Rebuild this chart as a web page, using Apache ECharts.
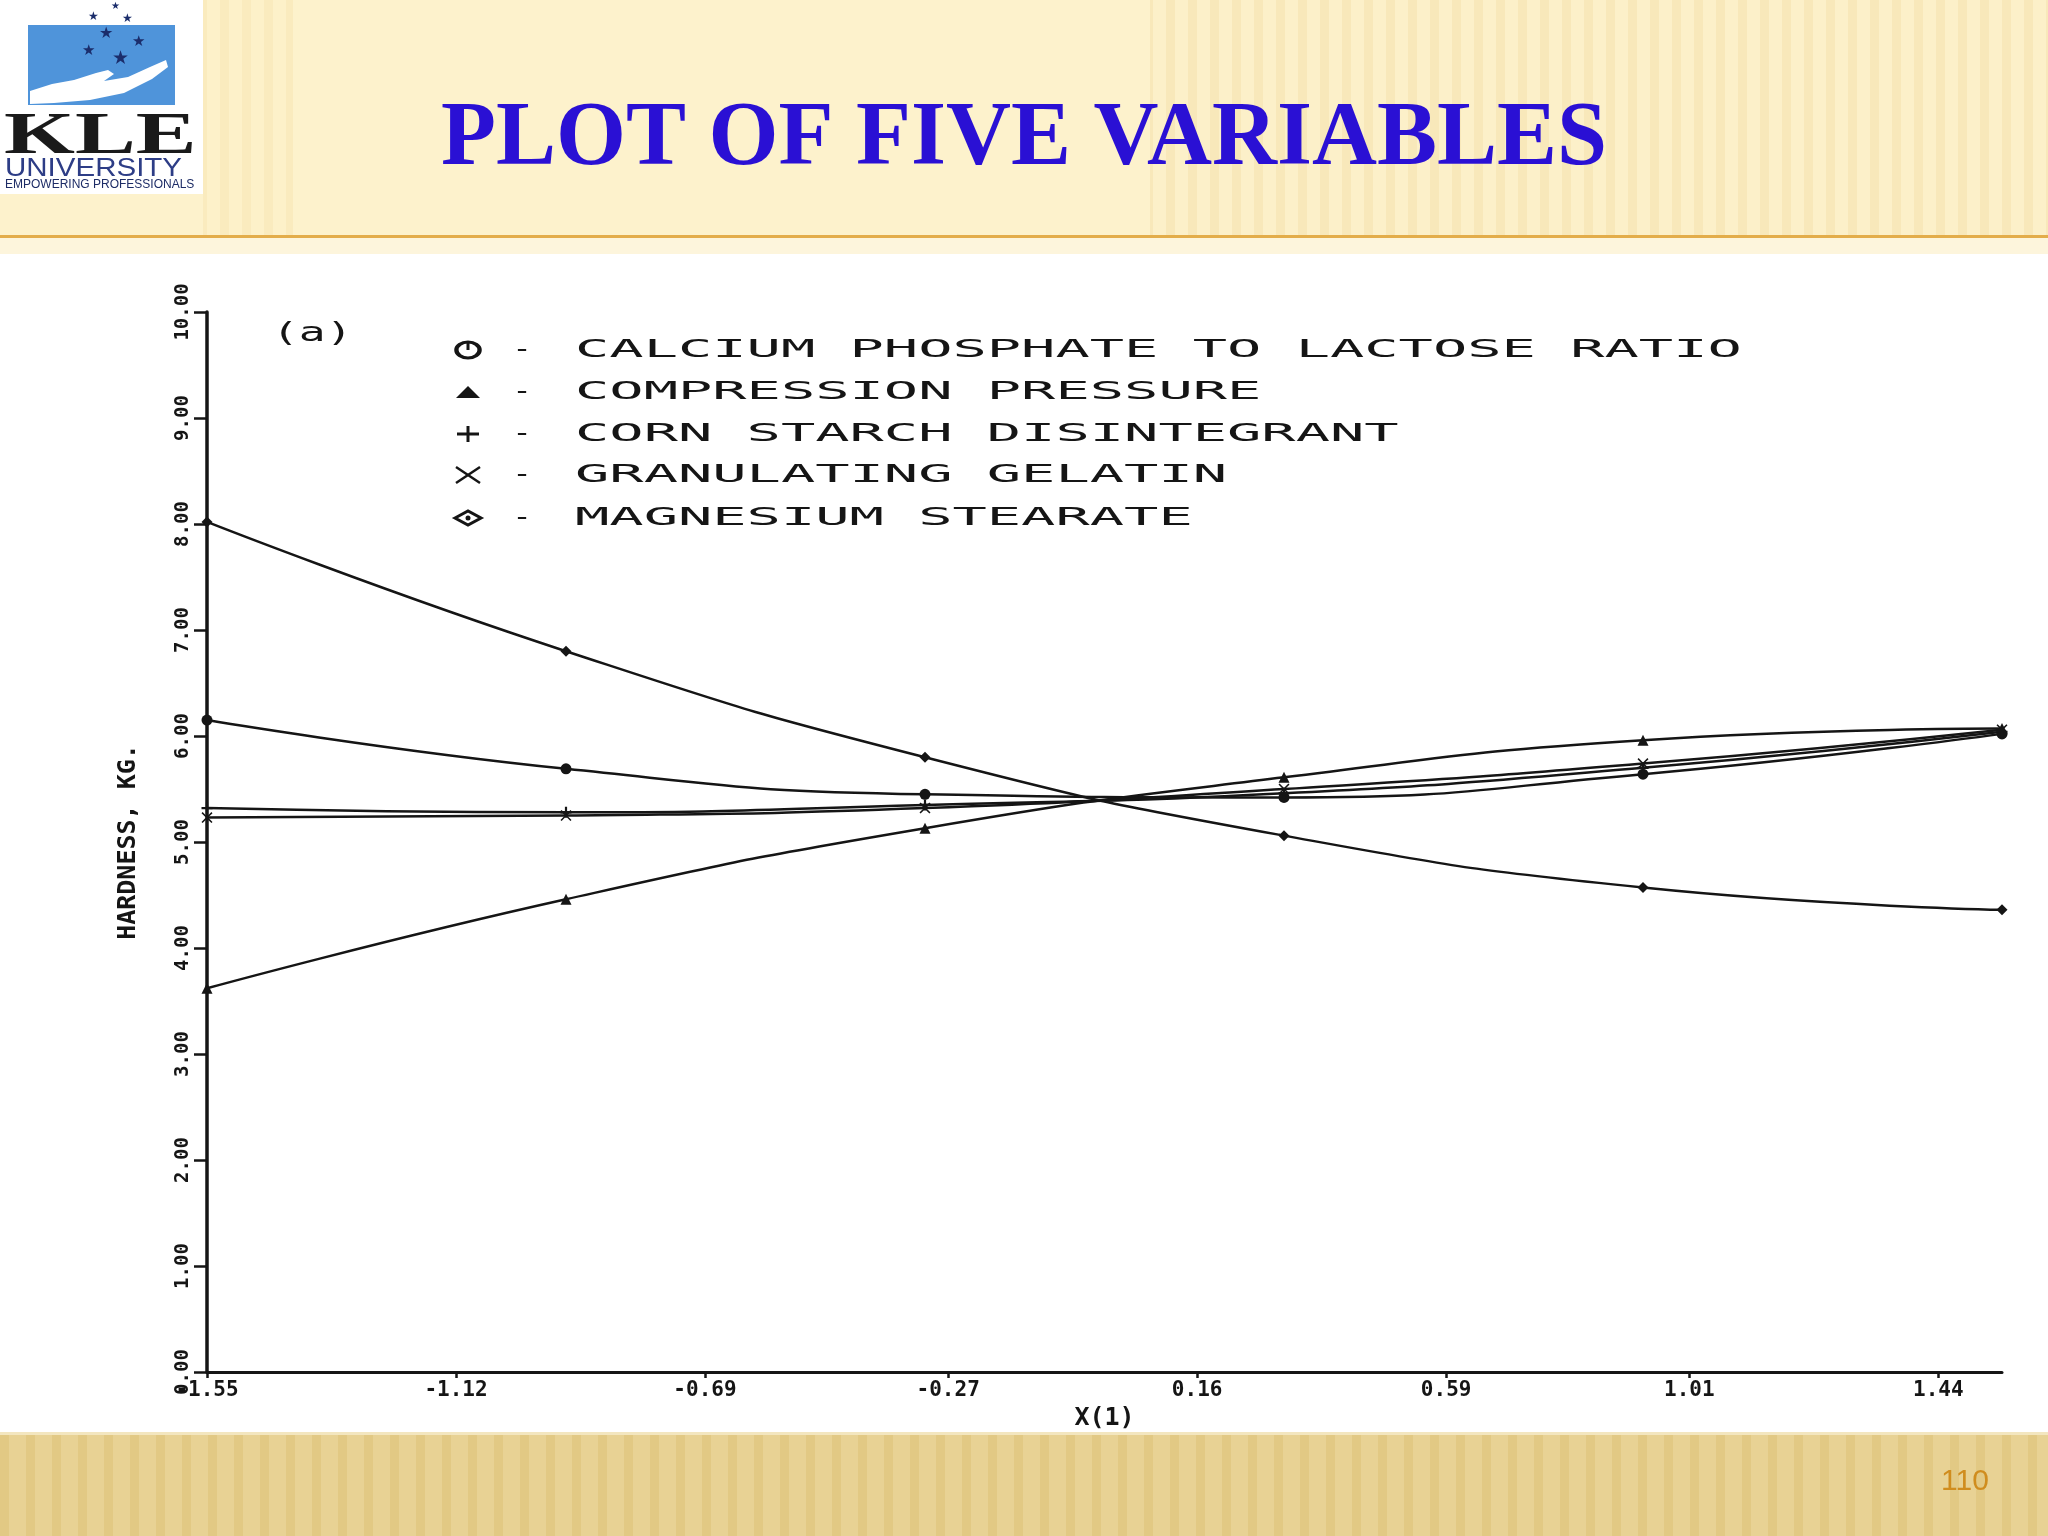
<!DOCTYPE html>
<html><head><meta charset="utf-8">
<script src="https://cdn.jsdelivr.net/npm/echarts@6/dist/echarts.min.js"></script>
<style>html,body{margin:0;padding:0;background:#fff}#c{width:2048px;height:1536px}</style>
</head><body><div id="c"></div>
<script>
// ---------------- data ----------------
const xPoints = [-1.55, -0.93, -0.31, 0.31, 0.93, 1.55];
const xTickLabels = ['-1.55', '-1.12', '-0.69', '-0.27', '0.16', '0.59', '1.01', '1.44'];
const yTickLabels = ['0.00', '1.00', '2.00', '3.00', '4.00', '5.00', '6.00', '7.00', '8.00', '9.00', '10.00'];
const seriesNames = ['CALCIUM PHOSPHATE TO LACTOSE RATIO', 'COMPRESSION PRESSURE', 'CORN STARCH DISINTEGRANT', 'GRANULATING GELATIN', 'MAGNESIUM STEARATE'];
const calciumPhosphate = [6.15, 5.69, 5.45, 5.42, 5.64, 6.02];
const compressionPressure = [3.62, 4.46, 5.13, 5.61, 5.96, 6.07];
const cornStarch = [5.32, 5.28, 5.35, 5.46, 5.70, 6.04];
const gelatin = [5.23, 5.25, 5.32, 5.50, 5.74, 6.06];
const magnesiumStearate = [8.02, 6.80, 5.80, 5.06, 4.57, 4.36];
const titleText = 'PLOT OF FIVE VARIABLES';
const panelLabel = '(a)';
const xAxisName = 'X(1)';
const yAxisName = 'HARDNESS, KG.';
const pageNumber = '110';

// ---------------- styling ----------------
const INK = '#151515';
const MONO = 'DejaVu Sans Mono';
const xTickValues = xTickLabels.map(Number);
const seriesValues = [calciumPhosphate, compressionPressure, cornStarch, gelatin, magnesiumStearate];
const seriesSymbols = [
  'circle', 'triangle',
  'path://M4,0H6V4H10V6H6V10H4V6H0V4H4Z',
  'path://M1,0L5,4L9,0L10,1L6,5L10,9L9,10L5,6L1,10L0,9L4,5L0,1Z',
  'diamond'
];

function stripes(w, base, stripe, frac) {
  const c = document.createElement('canvas');
  c.width = w; c.height = 8;
  const g = c.getContext('2d');
  g.fillStyle = base; g.fillRect(0, 0, w, 8);
  g.fillStyle = stripe; g.fillRect(0, 0, Math.round(w * frac), 8);
  return c;
}
const headerPattern = { image: stripes(22, '#fcefc6', '#f4e1ab', 0.4), repeat: 'repeat' };
const footerPattern = { image: stripes(26, '#e8d294', '#e2c984', 0.35), repeat: 'repeat' };

const chart = echarts.init(document.getElementById('c'), null, { renderer: 'canvas' });

const legendRows = [350, 392, 434, 475, 518];
const legendIconX = 468;
const graphics = [
  // slide background pieces
  { type: 'rect', z: -20, shape: { x: 0, y: 0, width: 2048, height: 236 }, style: { fill: '#fdf2cc' } },
  { type: 'rect', z: -19, shape: { x: 1150, y: 0, width: 898, height: 236 }, style: { fill: headerPattern, opacity: 0.55 } },
  { type: 'rect', z: -19, shape: { x: 203, y: 0, width: 90, height: 236 }, style: { fill: headerPattern, opacity: 0.4 } },
  { type: 'rect', z: -18, shape: { x: 0, y: 235, width: 2048, height: 3 }, style: { fill: '#e3ad4a' } },
  { type: 'rect', z: -20, shape: { x: 0, y: 238, width: 2048, height: 16 }, style: { fill: '#fdf5dc' } },
  { type: 'rect', z: -20, shape: { x: 0, y: 1432, width: 2048, height: 104 }, style: { fill: footerPattern } },
  { type: 'rect', z: -19, shape: { x: 0, y: 1432, width: 2048, height: 3 }, style: { fill: '#f3e6bf' } },
  // logo
  { type: 'rect', z: -10, shape: { x: 0, y: 0, width: 203, height: 194 }, style: { fill: '#ffffff' } },
  { type: 'rect', z: -9, shape: { x: 28, y: 25, width: 147, height: 80 }, style: { fill: '#4f94da' } },
  { type: 'polygon', z: -8, shape: { points: [[30, 91], [52, 84], [74, 80], [96, 73], [108, 70], [114, 74], [104, 81], [128, 77], [150, 67], [166, 60], [168, 67], [152, 79], [124, 93], [90, 100], [54, 103], [30, 104]] }, style: { fill: '#ffffff' } },
  { type: 'text', z: -7, x: 115, y: 6, style: { text: '★', fontSize: 10, fill: '#1b2d6b', align: 'center', verticalAlign: 'middle' } },
  { type: 'text', z: -7, x: 93, y: 17, style: { text: '★', fontSize: 12, fill: '#1b2d6b', align: 'center', verticalAlign: 'middle' } },
  { type: 'text', z: -7, x: 127, y: 19, style: { text: '★', fontSize: 12, fill: '#1b2d6b', align: 'center', verticalAlign: 'middle' } },
  { type: 'text', z: -7, x: 106, y: 34, style: { text: '★', fontSize: 16, fill: '#1b2d6b', align: 'center', verticalAlign: 'middle' } },
  { type: 'text', z: -7, x: 138, y: 42, style: { text: '★', fontSize: 15, fill: '#1b2d6b', align: 'center', verticalAlign: 'middle' } },
  { type: 'text', z: -7, x: 88, y: 51, style: { text: '★', fontSize: 15, fill: '#1b2d6b', align: 'center', verticalAlign: 'middle' } },
  { type: 'text', z: -7, x: 120, y: 59, style: { text: '★', fontSize: 19, fill: '#1b2d6b', align: 'center', verticalAlign: 'middle' } },
  { type: 'text', z: -7, x: 4, y: 137, scaleX: 1.52, style: { text: 'KLE', fontFamily: 'Liberation Serif', fontWeight: 'bold', fontSize: 60, fill: '#1a1a1a', verticalAlign: 'middle' } },
  { type: 'text', z: -7, x: 5, y: 169, scaleX: 1.18, style: { text: 'UNIVERSITY', fontFamily: 'Liberation Sans', fontSize: 25, fill: '#2d3d86', verticalAlign: 'middle' } },
  { type: 'text', z: -7, x: 5, y: 185, scaleX: 1.0, style: { text: 'EMPOWERING PROFESSIONALS', fontFamily: 'Liberation Sans Narrow, Liberation Sans', fontSize: 12, fill: '#1d2c66', verticalAlign: 'middle' } },
  // title
  { type: 'text', x: 1024, y: 141, style: { text: titleText, fontFamily: 'Liberation Serif', fontWeight: 'bold', fontSize: 90, fill: '#2a10d4', align: 'center', verticalAlign: 'middle' } },
  // page number
  { type: 'text', x: 1965, y: 1482, style: { text: pageNumber, fontFamily: 'Liberation Sans', fontSize: 30, fill: '#d08d1e', align: 'center', verticalAlign: 'middle' } },
  // panel label
  { type: 'text', x: 272, y: 334, scaleX: 1.65, style: { text: panelLabel, fontFamily: MONO, fontSize: 27, fill: INK, verticalAlign: 'middle' } },
  // legend icons
  { type: 'circle', x: legendIconX, y: legendRows[0], scaleX: 1.45, shape: { cx: 0, cy: 0, r: 8 }, style: { fill: 'none', stroke: INK, lineWidth: 3, strokeNoScale: true } },
  { type: 'line', shape: { x1: legendIconX, y1: legendRows[0] - 8, x2: legendIconX, y2: legendRows[0] }, style: { stroke: INK, lineWidth: 3 } },
  { type: 'polygon', x: legendIconX, y: legendRows[1], shape: { points: [[-12, 6], [12, 6], [0, -6]] }, style: { fill: INK } },
  { type: 'line', x: legendIconX, y: legendRows[2], shape: { x1: -11, y1: 0, x2: 11, y2: 0 }, style: { stroke: INK, lineWidth: 3 } },
  { type: 'line', x: legendIconX, y: legendRows[2], shape: { x1: 0, y1: -8, x2: 0, y2: 8 }, style: { stroke: INK, lineWidth: 3 } },
  { type: 'line', x: legendIconX, y: legendRows[3], shape: { x1: -12, y1: -8, x2: 12, y2: 8 }, style: { stroke: INK, lineWidth: 2.5 } },
  { type: 'line', x: legendIconX, y: legendRows[3], shape: { x1: -12, y1: 8, x2: 12, y2: -8 }, style: { stroke: INK, lineWidth: 2.5 } },
  { type: 'polygon', x: legendIconX, y: legendRows[4], shape: { points: [[-13, 0], [0, -7], [13, 0], [0, 7]] }, style: { fill: 'none', stroke: INK, lineWidth: 3 } },
  { type: 'circle', x: legendIconX, y: legendRows[4], shape: { cx: 0, cy: 0, r: 2.5 }, style: { fill: INK } }
];
seriesNames.forEach((name, i) => {
  graphics.push({ type: 'text', x: 522, y: legendRows[i], scaleX: 1.3, style: { text: '-', fontFamily: MONO, fontSize: 25, fill: INK, align: 'center', verticalAlign: 'middle' } });
  graphics.push({ type: 'text', x: 575, y: legendRows[i], scaleX: 2.28, style: { text: name, fontFamily: MONO, fontSize: 25, fill: INK, verticalAlign: 'middle' } });
});

const option = {
  animation: false,
  backgroundColor: '#ffffff',
  grid: { left: 207, right: 46, top: 312, bottom: 164, containLabel: false, outerBoundsMode: 'none' },
  xAxis: {
    type: 'value', min: -1.55, max: 1.55,
    name: xAxisName, nameLocation: 'middle', nameGap: 28,
    nameTextStyle: { fontFamily: MONO, fontSize: 25, color: INK, fontWeight: 'bold' },
    axisLine: { show: true, onZero: false, lineStyle: { color: INK, width: 3 } },
    axisTick: { show: true, inside: false, length: 6, customValues: xTickValues, lineStyle: { color: INK, width: 2.5 } },
    axisLabel: {
      customValues: xTickValues, margin: 8,
      fontFamily: MONO, fontSize: 21, fontWeight: 'bold', color: INK,
      formatter: v => { const i = xTickValues.findIndex(t => Math.abs(t - v) < 1e-6); return i >= 0 ? xTickLabels[i] : ''; }
    },
    splitLine: { show: false }
  },
  yAxis: {
    type: 'value', min: 0, max: 10, interval: 1,
    name: yAxisName, nameLocation: 'middle', nameRotate: 90, nameGap: 66,
    nameTextStyle: { fontFamily: MONO, fontSize: 25, color: INK, fontWeight: 'bold' },
    axisLine: { show: true, onZero: false, lineStyle: { color: INK, width: 3.5 } },
    axisTick: { show: true, length: 13, lineStyle: { color: INK, width: 2.5 } },
    axisLabel: {
      rotate: 90, margin: 14,
      fontFamily: MONO, fontSize: 19, fontWeight: 'bold', color: INK,
      formatter: v => yTickLabels[Math.round(v)]
    },
    splitLine: { show: false }
  },
  graphic: { elements: graphics },
  series: seriesNames.map((name, i) => ({
    name: name,
    type: 'line',
    smooth: true,
    data: xPoints.map((x, j) => [x, seriesValues[i][j]]),
    symbol: seriesSymbols[i],
    symbolSize: 11,
    showSymbol: true,
    itemStyle: { color: INK },
    lineStyle: { color: INK, width: 2.5 },
    z: 3
  }))
};
chart.setOption(option);
</script>
</body></html>
